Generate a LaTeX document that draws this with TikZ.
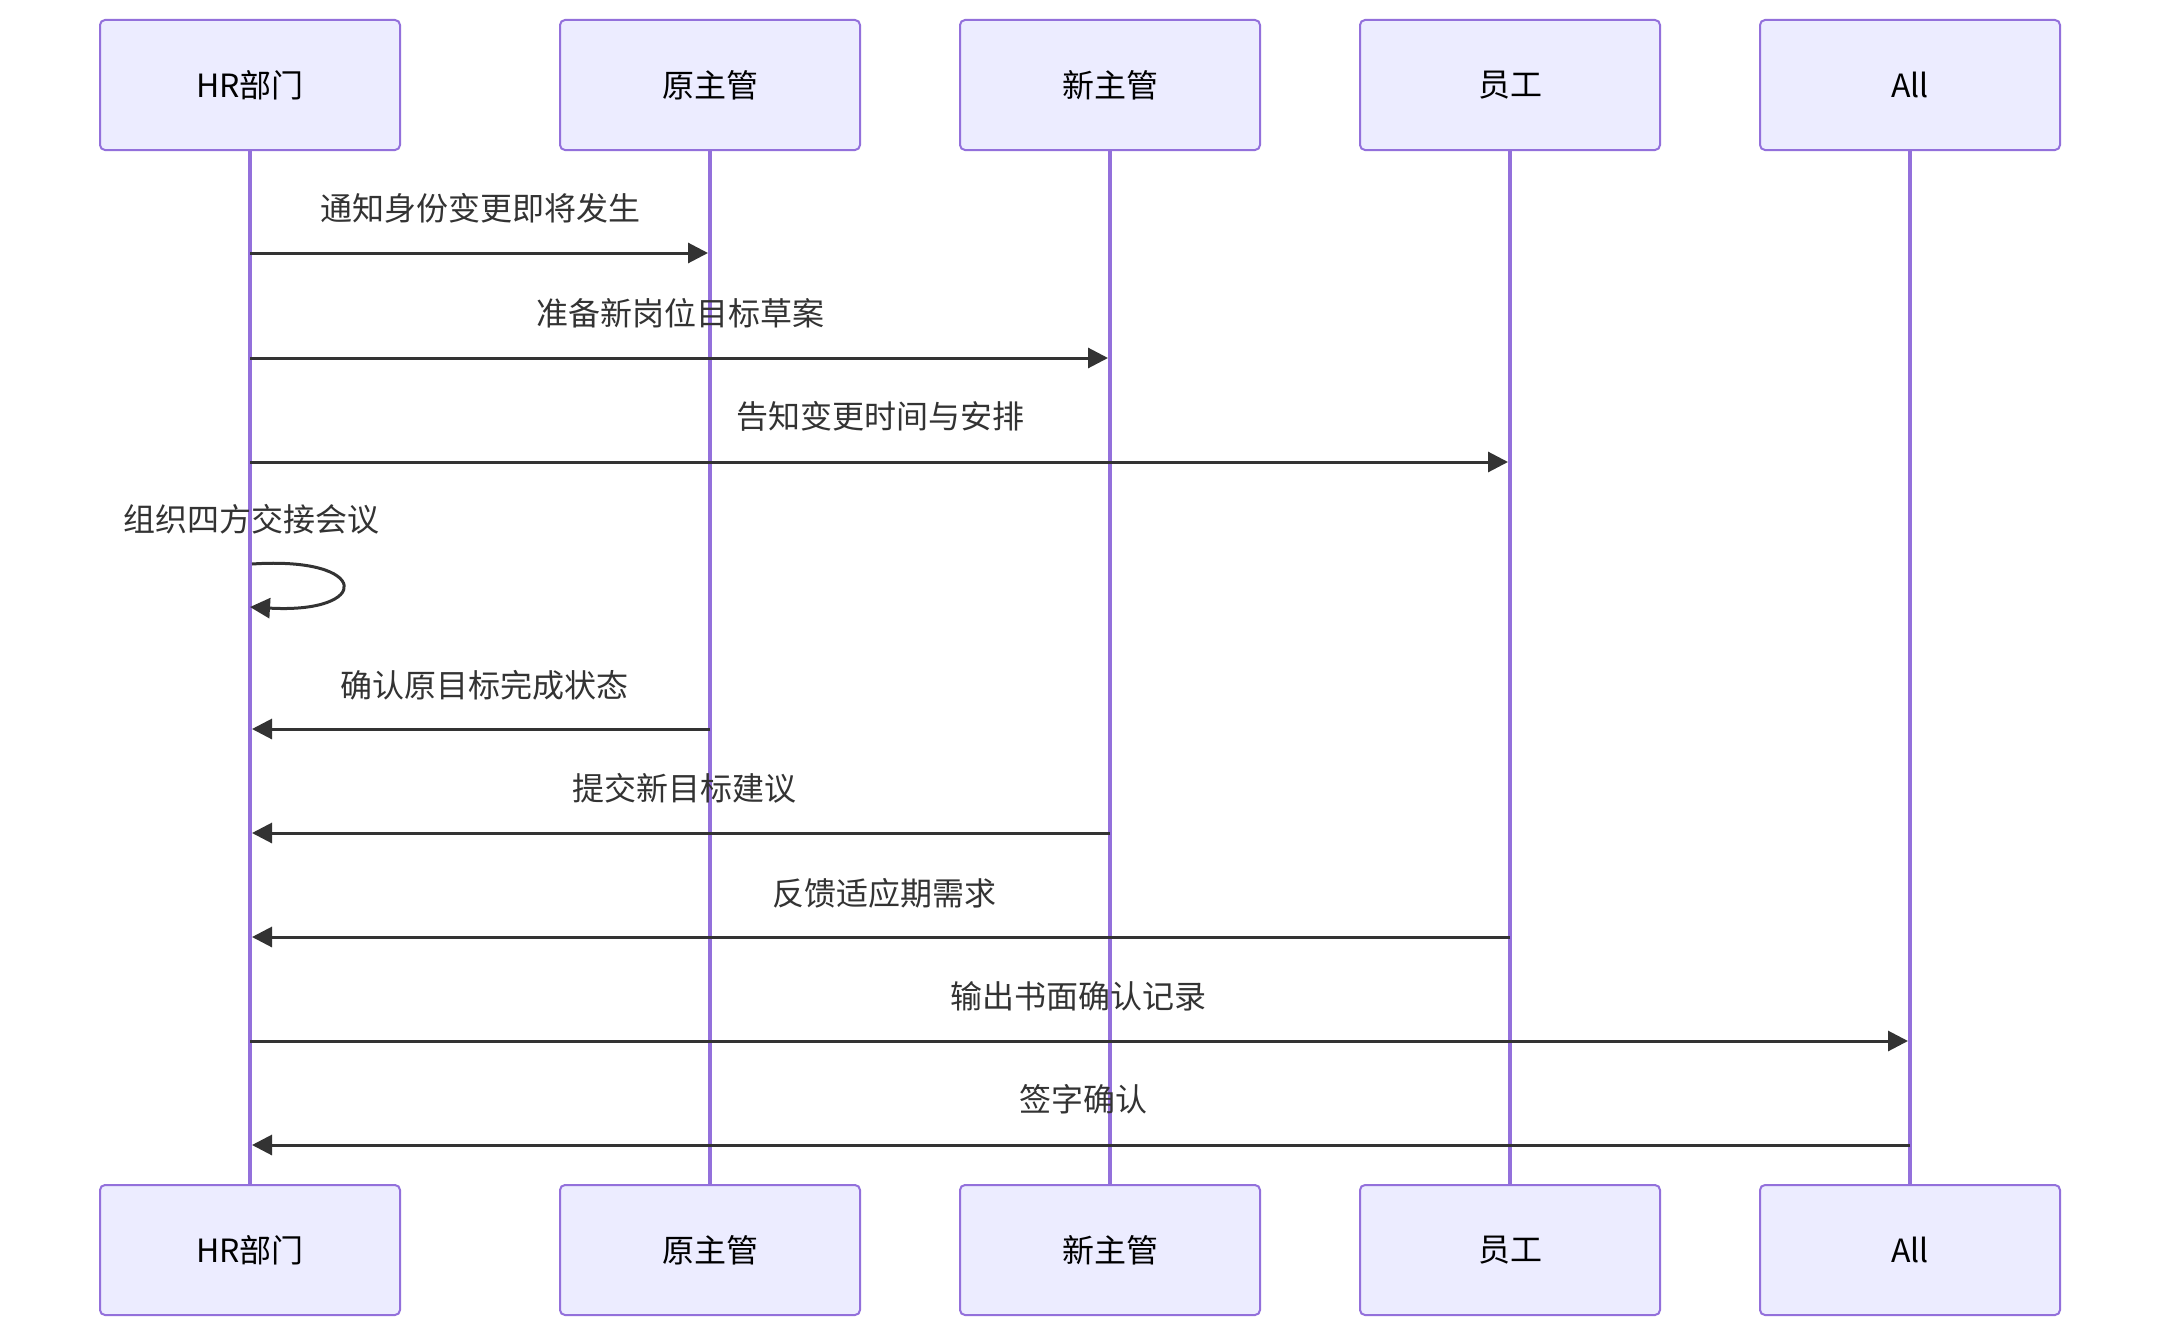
\documentclass[tikz,border=0pt]{standalone}
\usepackage{fontspec}
\setmainfont{Noto Sans CJK SC}
\usetikzlibrary{arrows.meta,calc}
\definecolor{actfill}{HTML}{ECECFF}
\definecolor{actline}{HTML}{9370DB}
\definecolor{msgcol}{HTML}{333333}
\begin{document}
\begin{tikzpicture}[x=1pt,y=-1pt,
  actor/.style={draw=actline,fill=actfill,line width=2pt,rounded corners=5pt,
    minimum width=300pt,minimum height=130pt,inner sep=0pt,
    font=\fontsize{32}{38}\selectfont,text=black},
  life/.style={draw=actline,line width=4pt},
  msg/.style={draw=msgcol,line width=3pt,-{Triangle[length=20pt,width=20pt]},shorten >=2pt},
  lbl/.style={font=\fontsize{32}{38}\selectfont,text=msgcol,inner sep=0pt}]
\useasboundingbox (0,0) rectangle (2160,1338);
\fill[white] (0,0) rectangle (2160,1338);
% actors top
\node[actor] (hrT) at (250,85) {HR部门};
\node[actor] (ozT) at (710,85) {原主管};
\node[actor] (nzT) at (1110,85) {新主管};
\node[actor] (ygT) at (1510,85) {员工};
\node[actor] (alT) at (1910,85) {All};
% actors bottom
\node[actor] (hrB) at (250,1250) {HR部门};
\node[actor] (ozB) at (710,1250) {原主管};
\node[actor] (nzB) at (1110,1250) {新主管};
\node[actor] (ygB) at (1510,1250) {员工};
\node[actor] (alB) at (1910,1250) {All};
% lifelines
\foreach \a in {hr,oz,nz,yg,al}{
  \draw[life] (\a T.south) -- (\a B.north);
}
% messages
\draw[msg] (hrT |- 0,253) -- (ozT |- 0,253);
\node[lbl] (m1) at (480,208) {通知身份变更即将发生};
\draw[msg] (hrT |- 0,358) -- (nzT |- 0,358);
\node[lbl] (m2) at (680,313) {准备新岗位目标草案};
\draw[msg] (hrT |- 0,462) -- (ygT |- 0,462);
\node[lbl] (m3) at (880,416) {告知变更时间与安排};
% self loop
\node[lbl] (m4) at (251,519) {组织四方交接会议};
\coordinate (ls) at (252,564);
\coordinate (le) at (250,607);
\draw[msgcol,line width=3pt,-{Triangle[length=20pt,width=20pt]}] (ls) .. controls (372,556) and (372,614) .. (le);
\draw[msg] (ozT |- 0,729) -- (hrT |- 0,729);
\node[lbl] (m5) at (484,685) {确认原目标完成状态};
\draw[msg] (nzT |- 0,833) -- (hrT |- 0,833);
\node[lbl] (m6) at (684,788) {提交新目标建议};
\draw[msg] (ygT |- 0,937) -- (hrT |- 0,937);
\node[lbl] (m7) at (884,893) {反馈适应期需求};
\draw[msg] (hrT |- 0,1041) -- (alT |- 0,1041);
\node[lbl] (m8) at (1078,996) {输出书面确认记录};
\draw[msg] (alT |- 0,1145) -- (hrT |- 0,1145);
\node[lbl] (m9) at (1083,1099) {签字确认};
\end{tikzpicture}
\end{document}
